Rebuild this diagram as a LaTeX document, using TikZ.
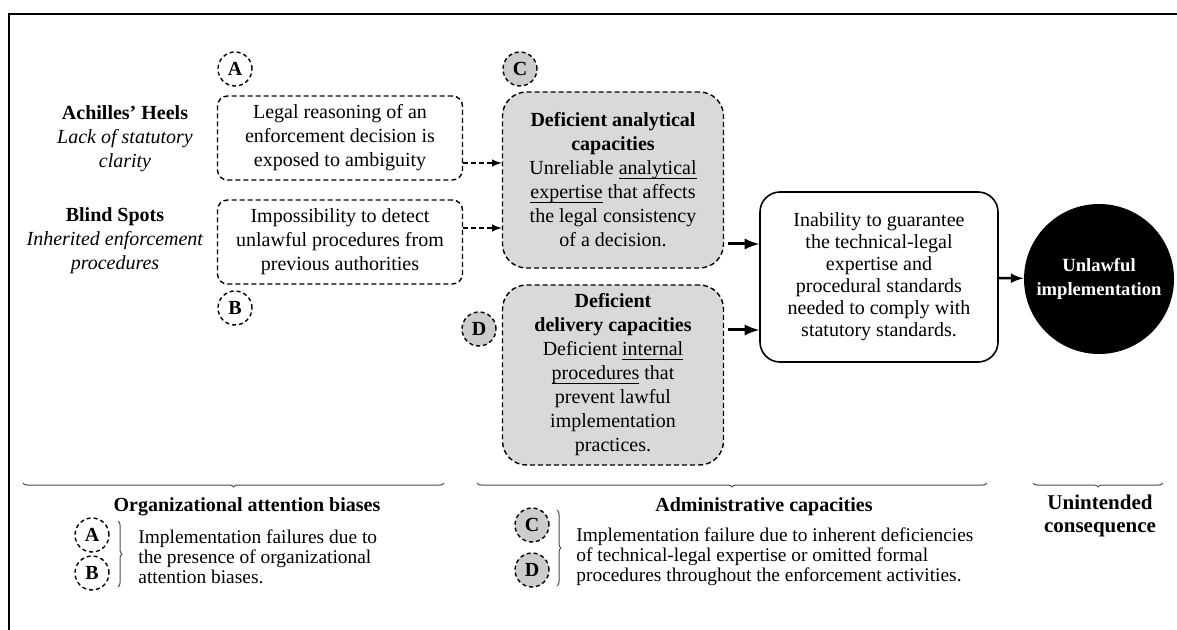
\documentclass[tikz,border=0pt]{standalone}
\usepackage{fontspec}
\setmainfont{Liberation Serif}
\usetikzlibrary{calc,decorations.pathreplacing}
\newsavebox{\uwordbox}
\newcommand{\uword}[1]{\sbox{\uwordbox}{#1}\rlap{\rule[-1.9pt]{\wd\uwordbox}{0.45pt}}\usebox{\uwordbox}}

\begin{document}
\begin{tikzpicture}[x = 0.5pt,
                    y = -0.5pt,
                    font = \fontsize{10}{12}\selectfont,
                    color = {black}]
% styles of boxes and marks
\tikzset{biasbox/.style={draw=black,dash pattern=on 2.5pt off 1.5pt,line width=0.7pt,rounded corners=5pt,
                         minimum width=122.5pt,minimum height=42pt,align=center,inner sep=0pt},
         capbox/.style={biasbox,fill=black!15,rounded corners=12pt,minimum width=110.5pt},
         resultbox/.style={draw=black,line width=0.8pt,rounded corners=10pt,minimum width=119pt,
                           minimum height=85pt,align=center,inner sep=0pt,font=\fontsize{10}{11}\selectfont},
         outcome/.style={circle,fill=black,text=white,minimum size=75pt,inner sep=0pt,align=center,
                         font=\fontsize{9.3}{12}\selectfont\bfseries},
         markcircle/.style={circle,draw=black,dash pattern=on 2pt off 1.5pt,line width=0.7pt,
                            minimum size=17pt,inner sep=0pt,font=\fontsize{10}{12}\selectfont\bfseries},
         greymark/.style={markcircle,fill=black!20},
         sidelabel/.style={align=center,inner sep=0pt},
         legendtext/.style={align=left,inner sep=0pt,anchor=west,font=\fontsize{9.7}{10}\selectfont},
         dasharrow/.style={dash pattern=on 2.5pt off 1.5pt,line width=0.7pt,arrows = -latex},
         boldarrow/.style={line width=1.5pt,arrows = -latex},
         hbrace/.style={draw=black!70,line width=0.5pt,decorate,decoration={brace,mirror,amplitude=2pt}},
         vbrace/.style={draw=black!70,line width=0.5pt,decorate,decoration={brace,amplitude=2pt}}}
\useasboundingbox (0,0) rectangle (1177,630);

%frame
\draw [line width=1pt] (9,630) -- (9,14) -- (1177,14);

%labels on the left
\node[sidelabel] (heels) at (125,139) {\textbf{Achilles’ Heels}\\\textit{Lack of statutory}\\\textit{clarity}};
\node[sidelabel] (spots) at (115,241) {\textbf{Blind Spots}\\\textit{Inherited enforcement}\\\textit{procedures}};

%biases
\node[biasbox] (boxA) at (340,138) {Legal reasoning of an\\enforcement decision is\\exposed to ambiguity};
\node[biasbox] (boxB) at (340,242) {Impossibility to detect\\unlawful procedures from\\previous authorities};
\node[markcircle] (markA) at (235,69) {A};
\node[markcircle] (markB) at (235,308) {B};

%capacities
\node[capbox,minimum height=88pt] (capA) at (613,180)
  {\textbf{Deficient analytical}\\\textbf{capacities}\\Unreliable \uword{analytical}\\\uword{expertise} that affects\\the legal consistency\\of a decision.};
\node[capbox,minimum height=90pt] (capD) at (613,375)
  {\textbf{Deficient}\\\textbf{delivery capacities}\\Deficient \uword{internal}\\\uword{procedures} that\\prevent lawful\\implementation\\practices.};
\node[greymark] (markC) at (520,69) {C};
\node[greymark] (markD) at (479,329) {D};

%result and consequence
\node[resultbox] (result) at (879,277) {Inability to guarantee\\the technical-legal\\expertise and\\procedural standards\\needed to comply with\\statutory standards.};
\node[outcome] (unlawful) at (1099,279) {Unlawful\\implementation};

%arrows
\coordinate (a1) at ([yshift=-12.5pt]boxA.east);
\coordinate (b1) at ([yshift=7pt]boxB.east);
\coordinate (c1) at ([yshift=-32pt]capA.east);
\coordinate (d1) at ([yshift=22.5pt]capD.east);
\draw [dasharrow] (a1) -- (a1 -| capA.west);
\draw [dasharrow] (b1) -- (b1 -| capA.west);
\draw [boldarrow, shorten <=2pt] (c1) -- (c1 -| result.west);
\draw [boldarrow, shorten <=2pt] (d1) -- (d1 -| result.west);
\draw [boldarrow, line width=1.2pt] (result) -- (unlawful);

%braces
\draw [hbrace] (23,483) -- (444,483);
\draw [hbrace] (477,483) -- (987,483);
\draw [hbrace] (1033,483) -- (1163,483);

%legend: attention biases
\node[font=\fontsize{10}{12}\selectfont\bfseries] (biastitle) at (247,507) {Organizational attention biases};
\node[markcircle] (legA) at (92,535) {A};
\node[markcircle] (legB) at (92,573) {B};
\draw [vbrace] (118,521) -- (118,587);
\node[legendtext] (biastext) at (138,557) {Implementation failures due to\\the presence of organizational\\attention biases.};

%legend: capacities
\node[font=\fontsize{10}{12}\selectfont\bfseries] (captitle) at (764,507) {Administrative capacities};
\node[greymark] (legC) at (532,525) {C};
\node[greymark] (legD) at (532,570) {D};
\draw [vbrace] (557,510) -- (557,586);
\node[legendtext] (captext) at (576,557) {Implementation failure due to inherent deficiencies\\of technical-legal expertise or omitted formal\\procedures throughout the enforcement activities.};

%legend: consequence
\node[font=\fontsize{10.5}{11.5}\selectfont\bfseries,align=center] (contitle) at (1100,516) {Unintended\\consequence};
\end{tikzpicture}
\end{document}
